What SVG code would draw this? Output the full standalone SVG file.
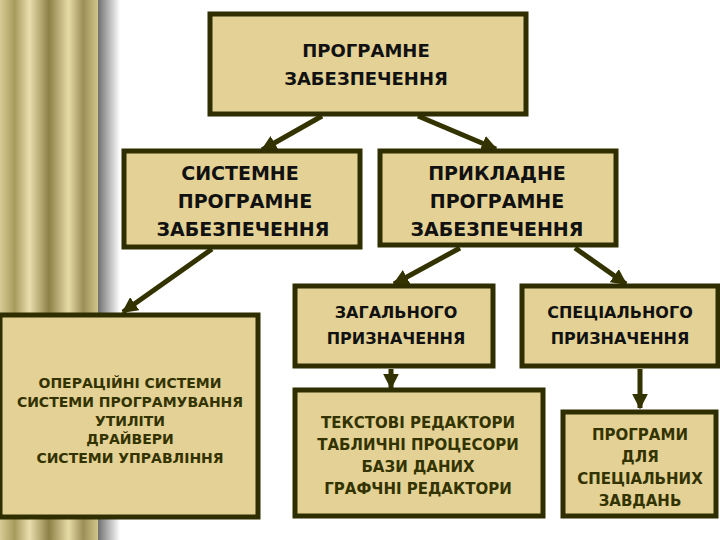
<svg xmlns="http://www.w3.org/2000/svg" width="720" height="540" viewBox="0 0 720 540">
<defs>
<linearGradient id="pil" x1="0" y1="0" x2="1" y2="0">
<stop offset="0" stop-color="#d8cc96"/><stop offset="0.15" stop-color="#a89a5c"/><stop offset="0.3" stop-color="#e9dfae"/><stop offset="0.5" stop-color="#8f8048"/><stop offset="0.7" stop-color="#e6dba6"/><stop offset="0.85" stop-color="#9c8f58"/><stop offset="1" stop-color="#d2c58c"/>
</linearGradient>
<linearGradient id="sh" x1="0" y1="0" x2="1" y2="0">
<stop offset="0" stop-color="#707070"/><stop offset="1" stop-color="#ffffff"/>
</linearGradient>
<marker id="ah" viewBox="0 0 10 10" refX="9" refY="5" markerWidth="3.2" markerHeight="3.2" orient="auto"><path d="M0,0 L10,5 L0,10 z" fill="#333300"/></marker>
</defs>
<style>
.b{fill:#e3d195;stroke:#2e2e00;stroke-width:5}
.t{font-family:"DejaVu Sans",Verdana,sans-serif;font-weight:bold;fill:#111;text-anchor:middle}
.s{font-family:"DejaVu Sans",Verdana,sans-serif;font-weight:bold;fill:#333300;text-anchor:middle}
.c{stroke:#333300;stroke-width:5;fill:none;marker-end:url(#ah)}
</style>
<rect width="720" height="540" fill="#fff"/>
<rect x="0" y="0" width="98" height="540" fill="url(#pil)"/>
<rect x="98" y="0" width="22" height="540" fill="url(#sh)"/>
<g id="connectors">
<line class="c" x1="322" y1="116" x2="262" y2="150"/>
<line class="c" x1="418" y1="116" x2="496" y2="149"/>
<line class="c" x1="212" y1="249" x2="123" y2="312"/>
<line class="c" x1="460" y1="248" x2="394" y2="284"/>
<line class="c" x1="575" y1="248" x2="626" y2="284"/>
<line class="c" x1="391" y1="369" x2="391" y2="388"/>
<line class="c" x1="640" y1="369" x2="640" y2="408"/>
</g>
<g id="n1"><rect class="b" x="210" y="14" width="316" height="100"/>
<text class="t" font-size="18"><tspan x="366" y="57">ПРОГРАМНЕ</tspan><tspan x="366" y="85">ЗАБЕЗПЕЧЕННЯ</tspan></text></g>
<g id="n2"><rect class="b" x="124" y="151" width="236" height="96"/>
<text class="t" font-size="19"><tspan x="240" y="180">СИСТЕМНЕ</tspan><tspan x="245" y="208">ПРОГРАМНЕ</tspan><tspan x="243" y="236">ЗАБЕЗПЕЧЕННЯ</tspan></text></g>
<g id="n3"><rect class="b" x="380" y="151" width="236" height="94"/>
<text class="t" font-size="19"><tspan x="497" y="180">ПРИКЛАДНЕ</tspan><tspan x="497" y="208">ПРОГРАМНЕ</tspan><tspan x="497" y="236">ЗАБЕЗПЕЧЕННЯ</tspan></text></g>
<g id="n4"><rect class="b" x="0" y="315" width="258" height="202"/>
<text class="s" font-size="14"><tspan x="130" y="388">ОПЕРАЦІЙНІ СИСТЕМИ</tspan><tspan x="130" y="407">СИСТЕМИ ПРОГРАМУВАННЯ</tspan><tspan x="130" y="426">УТИЛІТИ</tspan><tspan x="130" y="444">ДРАЙВЕРИ</tspan><tspan x="130" y="463">СИСТЕМИ УПРАВЛІННЯ</tspan></text></g>
<g id="n5"><rect class="b" x="295" y="286" width="198" height="80"/>
<text class="t" font-size="16"><tspan x="396" y="318">ЗАГАЛЬНОГО</tspan><tspan x="396" y="344">ПРИЗНАЧЕННЯ</tspan></text></g>
<g id="n6"><rect class="b" x="522" y="286" width="196" height="80"/>
<text class="t" font-size="16"><tspan x="620" y="318">СПЕЦІАЛЬНОГО</tspan><tspan x="620" y="344">ПРИЗНАЧЕННЯ</tspan></text></g>
<g id="n7"><rect class="b" x="295" y="390" width="248" height="126"/>
<text class="s" font-size="15"><tspan x="418" y="428">ТЕКСТОВІ РЕДАКТОРИ</tspan><tspan x="418" y="450">ТАБЛИЧНІ ПРОЦЕСОРИ</tspan><tspan x="418" y="472">БАЗИ ДАНИХ</tspan><tspan x="418" y="494">ГРАФЧНІ РЕДАКТОРИ</tspan></text></g>
<g id="n8"><rect class="b" x="563" y="412" width="153" height="104"/>
<text class="s" font-size="15"><tspan x="640" y="440">ПРОГРАМИ</tspan><tspan x="640" y="462">ДЛЯ</tspan><tspan x="640" y="484">СПЕЦІАЛЬНИХ</tspan><tspan x="640" y="506">ЗАВДАНЬ</tspan></text></g>
</svg>
